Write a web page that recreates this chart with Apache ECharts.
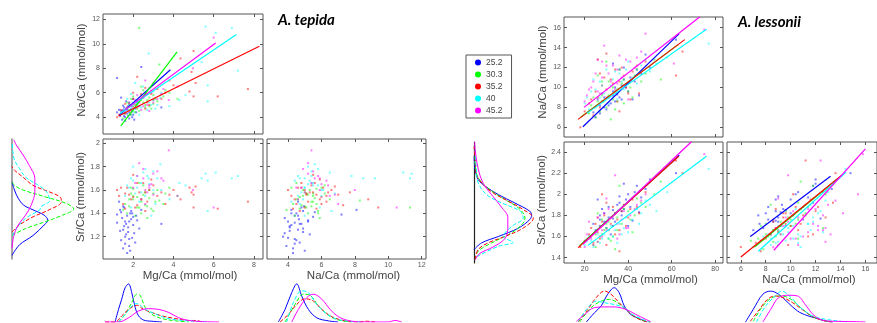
<!DOCTYPE html>
<html>
<head>
<meta charset="utf-8">
<script src="https://cdn.jsdelivr.net/npm/echarts@6/dist/echarts.min.js"></script>
<style>
  html, body { margin: 0; padding: 0; background: #fff; }
  #chart { width: 877px; height: 323px; }
</style>
</head>
<body>
<div id="chart"></div>
<script>
// temperature groups (legend) and their colours
const temps = ['25.2', '30.3', '35.2', '40', '45.2'];
const colors = ['#0000ff', '#00ff00', '#ff0000', '#00ffff', '#ff00ff'];
const dashed = [false, true, true, true, false];

// tick labels
const tepMgTicks = [2, 4, 6, 8];
const tepNaTicks = [4, 6, 8, 10, 12];
const tepSrTicks = [1.2, 1.4, 1.6, 1.8, 2];
const lesMgTicks = [20, 40, 60, 80];
const lesNaTicks = [6, 8, 10, 12, 14, 16];
const lesSrTicks = [1.4, 1.6, 1.8, 2, 2.2, 2.4];

// A. tepida specimens: [Mg/Ca, Na/Ca, Sr/Ca]
const tepPts252 = [[1.35,4.1,1.25],[1.5,4.3,1.10],[1.6,4.0,1.33],[1.7,4.6,1.38],[1.8,4.4,1.18],[1.9,4.9,1.42],[2.0,4.2,1.30],[2.1,4.7,1.15],[1.45,3.8,1.36],[1.55,4.8,1.45],[1.65,5.3,1.22],[1.75,4.1,1.28],[1.85,5.0,1.08],[1.95,4.5,1.40],[2.2,5.2,1.34],[1.3,4.6,1.50],[1.4,5.6,1.41],[1.6,3.7,1.20],[2.0,5.5,1.37],[1.8,3.9,1.12],[2.3,4.9,1.27],[1.2,4.4,1.32],[2.4,8.1,1.43],[1.2,7.2,1.39],[3.4,4.8,1.31],[1.7,4.3,1.06],[2.05,3.8,1.23],[1.5,4.95,1.46],[1.9,4.65,1.35],[1.35,4.2,1.43],[1.4,4.5,1.17],[1.55,4.1,1.29],[1.65,4.7,1.31],[1.75,4.9,1.24],[1.85,4.2,1.40],[1.95,4.0,1.19],[2.15,4.4,1.38],[1.5,4.6,1.26],[1.8,5.2,1.33],[1.6,4.4,1.14]];
const tepPts303 = [[1.6,4.3,1.48],[1.8,4.6,1.52],[2.0,4.9,1.55],[2.2,5.1,1.45],[2.4,5.4,1.50],[2.6,5.0,1.58],[2.8,5.6,1.53],[3.0,5.8,1.42],[3.2,5.3,1.60],[3.5,5.7,1.48],[3.8,6.0,1.62],[4.2,5.5,1.55],[1.7,5.2,1.40],[2.1,4.4,1.38],[2.5,6.2,1.64],[2.9,4.7,1.44],[1.9,5.5,1.57],[2.3,4.5,1.66],[2.7,5.9,1.36],[3.3,8.3,1.51],[2.3,11.3,1.45],[1.5,3.9,1.43],[2.0,5.7,1.61],[3.0,5.1,1.57],[2.6,4.8,1.47],[2.4,6.5,1.52],[1.8,5.0,1.46],[2.2,4.7,1.54],[2.5,5.2,1.56],[2.8,4.9,1.60],[3.1,5.5,1.50],[2.0,4.5,1.52],[2.4,5.8,1.40],[3.6,6.2,1.57],[1.9,4.2,1.62],[2.7,5.4,1.46]];
const tepPts352 = [[1.3,4.2,1.55],[1.5,4.5,1.48],[1.7,4.8,1.62],[1.9,4.4,1.52],[2.1,5.0,1.45],[2.3,5.3,1.58],[2.5,5.6,1.66],[2.7,5.2,1.50],[2.9,5.9,1.69],[3.2,6.3,1.55],[3.6,6.0,1.48],[4.0,6.6,1.60],[4.35,8.8,1.52],[4.9,7.7,1.58],[5.0,9.4,1.45],[4.8,6.1,1.62],[5.0,5.7,1.56],[6.2,5.7,1.44],[7.7,6.3,1.50],[2.2,7.3,1.47],[1.2,4.0,1.60],[2.0,5.5,1.73],[2.6,4.7,1.42],[3.0,5.4,1.64],[1.6,5.1,1.57],[5.1,6.8,1.63],[1.4,4.6,1.62],[1.8,5.1,1.56],[2.2,4.8,1.66],[2.4,5.9,1.52],[2.8,5.0,1.60],[3.4,5.5,1.58],[1.6,4.3,1.44],[2.0,6.0,1.54],[3.8,7.0,1.56],[2.6,6.4,1.58]];
const tepPts40 = [[1.6,4.6,1.55],[1.8,5.0,1.62],[2.0,4.4,1.68],[2.2,5.4,1.72],[2.4,4.8,1.58],[2.6,5.8,1.78],[2.8,5.2,1.65],[3.0,6.1,1.60],[3.35,5.6,1.82],[3.8,4.9,1.52],[4.3,5.4,1.66],[2.77,9.2,1.70],[5.6,11.4,1.74],[6.1,10.9,1.75],[5.7,6.6,1.42],[5.7,5.3,1.68],[7.2,7.8,1.72],[5.4,8.5,1.70],[1.9,5.9,1.45],[2.3,4.2,1.50],[2.5,6.5,1.75],[3.1,4.7,1.48],[1.7,5.5,1.64],[2.1,6.8,1.57],[2.9,5.0,1.38],[6.9,11.3,1.70],[1.9,4.7,1.70],[2.2,5.0,1.62],[2.4,5.5,1.66],[2.7,4.6,1.72],[3.0,5.4,1.76],[3.4,6.0,1.60],[2.0,5.2,1.80],[2.6,6.0,1.55],[3.2,5.0,1.70],[4.6,5.8,1.64]];
const tepPts452 = [[2.0,4.8,1.62],[2.3,5.2,1.83],[2.5,5.6,1.70],[2.7,5.0,1.58],[2.9,6.0,1.65],[3.2,5.5,1.76],[3.77,5.4,1.94],[4.2,6.5,1.55],[4.97,8.0,1.60],[6.0,10.5,1.45],[2.4,4.6,1.52],[3.5,6.3,1.68],[2.2,5.8,1.72],[2.8,4.5,1.62],[3.0,6.8,1.56],[2.6,7.0,1.48],[2.1,5.4,1.66],[2.6,5.9,1.60],[3.0,5.2,1.74],[3.4,5.9,1.70],[2.5,4.9,1.78],[2.8,6.4,1.64]];

// A. lessonii specimens: [Mg/Ca, Na/Ca, Sr/Ca]
const lesPts252 = [[24,7.5,1.72],[27,8.2,1.76],[29,8.0,1.82],[31,9.0,1.78],[33,9.6,1.85],[35,9.3,1.90],[37,10.2,1.80],[39,10.0,1.95],[41,11.0,1.88],[43,10.6,2.02],[46,11.4,1.97],[30,7.8,1.68],[34,8.6,1.74],[36,11.8,1.92],[28,9.4,1.86],[32,8.4,1.62],[40,9.6,1.70],[38,12.0,2.10],[45,9.2,1.83],[26,8.8,1.95],[48,13.3,2.05],[62,14.8,2.20],[33,12.4,1.77],[42,8.8,1.75],[25,7.0,1.66],[29,9.0,1.74],[31,8.2,1.88],[34,10.0,1.82],[36,9.0,1.98],[38,10.8,1.86],[40,10.4,2.0],[44,11.8,2.08],[27,7.4,1.80],[33,9.2,1.70],[37,8.8,1.84],[50,12.0,2.14]];
const lesPts303 = [[22,7.4,1.58],[25,8.0,1.62],[27,7.6,1.70],[29,8.6,1.66],[31,9.2,1.74],[33,8.8,1.60],[35,9.8,1.78],[37,10.4,1.72],[40,9.6,1.84],[43,11.2,1.80],[46,10.6,1.92],[24,9.0,1.52],[30,12.6,1.68],[34,7.8,1.48],[38,8.4,1.90],[28,10.6,1.76],[55,10.8,2.12],[52,12.8,2.0],[36,11.8,2.08],[42,9.0,1.64],[26,11.2,1.82],[32,6.8,1.56],[23,8.2,1.60],[26,8.6,1.55],[28,9.2,1.62],[30,8.0,1.72],[33,10.0,1.70],[35,8.6,1.66],[38,10.8,1.86],[41,10.0,1.76],[44,11.8,1.96],[31,10.6,1.58],[25,7.0,1.50],[48,11.4,1.88]];
const lesPts352 = [[18,6.0,1.50],[22,8.4,1.62],[25,9.6,1.72],[27,8.0,1.58],[29,11.0,1.80],[31,9.0,1.66],[33,10.4,1.88],[35,8.6,1.76],[37,12.0,1.84],[39,10.0,1.70],[42,11.6,1.95],[45,9.4,1.82],[48,12.6,2.02],[24,7.2,1.54],[30,13.4,1.92],[34,11.8,1.62],[28,10.2,2.0],[62,11.2,2.32],[65,13.6,2.2],[36,7.6,1.46],[41,8.8,1.86],[26,12.8,1.78],[20,7.6,1.56],[23,8.8,1.68],[26,9.0,1.64],[28,8.6,1.74],[32,10.8,1.72],[34,9.6,1.82],[36,10.6,1.66],[38,11.2,1.90],[40,9.4,1.78],[44,12.2,1.88],[30,9.8,1.52],[27,11.4,1.60]];
const lesPts40 = [[20,8.4,1.52],[23,9.6,1.56],[26,8.2,1.62],[28,10.2,1.58],[31,9.0,1.66],[33,10.8,1.60],[36,11.4,1.72],[38,9.8,1.68],[42,11.0,1.76],[46,12.2,1.82],[50,11.6,1.90],[24,10.8,1.50],[30,11.8,1.74],[35,8.8,1.54],[40,12.6,1.64],[27,9.0,1.70],[77,14.4,2.24],[58,13.0,2.02],[44,10.4,1.86],[22,7.8,1.60],[21,9.0,1.55],[25,9.8,1.64],[27,10.6,1.54],[29,9.4,1.62],[32,10.2,1.70],[34,11.6,1.66],[37,10.6,1.62],[39,11.8,1.78],[45,11.4,1.72],[48,12.8,1.94],[31,8.4,1.58],[53,12.4,1.84]];
const lesPts452 = [[20,8.6,1.50],[23,10.0,1.58],[25,11.4,1.64],[27,9.4,1.70],[30,12.2,1.66],[32,10.6,1.78],[35,11.8,1.72],[38,10.2,1.84],[41,12.6,1.80],[44,13.0,1.90],[30,9.0,1.96],[26,12.8,1.55],[36,13.2,1.62],[48,15.4,2.0],[61,12.4,2.32],[75,15.8,2.38],[22,9.8,1.74],[29,14.2,1.82],[40,8.8,1.68],[34,9.8,2.18],[21,9.2,1.62],[24,10.6,1.52],[26,9.6,1.78],[28,11.0,1.60],[31,11.4,1.86],[33,12.2,1.70],[37,11.0,1.76],[39,12.8,1.68],[43,12.0,1.86],[46,13.6,1.94],[28,12.6,1.66],[35,10.4,1.58]];

// regression line end points, one per temperature
const tepFitNaMg = [[[1.32,4.19],[3.85,7.88]],[[1.385,3.29],[4.18,9.33]],[[1.27,4.1],[8.27,9.79]],[[1.35,4.33],[7.13,10.75]],[[1.6,4.6],[6.1,10.07]]];
const lesFitNaMg = [[[19.2,6.06],[63.5,15.4]],[[18,7.0],[63,14.3]],[[17,6.8],[66,14.8]],[[21,7.4],[76,15.85]],[[19.7,8.0],[73,17.1]]];
const lesFitSrMg = [[[19.2,1.538],[63.5,2.37]],[[17.6,1.51],[62,2.34]],[[17,1.495],[63.2,2.36]],[[21.5,1.516],[76,2.36]],[[19.2,1.526],[69.2,2.5]]];
const lesFitSrNa = [[[6.76,1.6],[13.2,2.17]],[[7.1,1.5],[13.8,2.15]],[[6.0,1.405],[14.1,2.18]],[[7.4,1.46],[14.45,2.21]],[[8.65,1.47],[16,2.43]]];

// kernel density curves: [value, density]
const tepDensSr = [
  [[1.04,0],[1.13,0.12],[1.21,0.34],[1.30,0.52],[1.34,0.58],[1.385,0.52],[1.43,0.34],[1.47,0.19],[1.53,0.1],[1.6,0.04],[1.67,0]],
  [[1.21,0],[1.27,0.22],[1.33,0.55],[1.385,0.82],[1.437,1.0],[1.485,0.88],[1.54,0.55],[1.6,0.18],[1.64,0.04],[1.67,0]],
  [[1.24,0],[1.3,0.12],[1.37,0.34],[1.43,0.6],[1.5,0.8],[1.54,0.78],[1.585,0.6],[1.64,0.34],[1.71,0.18],[1.77,0.04],[1.8,0]],
  [[1.21,0.01],[1.27,0.07],[1.357,0.22],[1.43,0.45],[1.457,0.47],[1.51,0.61],[1.585,0.56],[1.64,0.43],[1.71,0.22],[1.785,0.12],[1.857,0.04],[1.93,0.015],[2.01,0]],
  [[1.1,0],[1.21,0.03],[1.3,0.1],[1.385,0.22],[1.47,0.31],[1.585,0.37],[1.7,0.37],[1.81,0.28],[1.9,0.18],[1.985,0.07],[2.03,0.03]]
];
const tepDensMg = [
  [[1.1,0],[1.27,0.33],[1.43,0.6],[1.6,0.9],[1.77,1.0],[1.93,0.77],[2.1,0.38],[2.27,0.16],[2.52,0.05],[2.93,0.02],[3.43,0]],
  [[1.27,0],[1.6,0.2],[1.93,0.51],[2.18,0.73],[2.35,0.7],[2.6,0.38],[2.93,0.2],[3.43,0.09],[4.1,0.03],[4.77,0]],
  [[0.6,0],[1.1,0],[1.43,0.16],[1.77,0.33],[2.18,0.44],[2.52,0.33],[2.93,0.25],[3.43,0.16],[4.1,0.09],[4.77,0.04],[5.1,0.04],[5.43,0]],
  [[1.27,0],[1.68,0.25],[2.02,0.46],[2.2,0.48],[2.6,0.33],[3.02,0.23],[3.6,0.11],[4.27,0.05],[5.1,0.02],[5.77,0]],
  [[0.6,0],[1.27,0],[1.77,0.11],[2.27,0.29],[2.77,0.35],[3.27,0.33],[3.77,0.25],[4.27,0.11],[4.77,0.04],[5.43,0.01],[6.27,0]]
];
const tepDensNa = [
  [[3.42,0],[3.82,0.33],[4.22,0.77],[4.52,1.0],[4.82,0.68],[5.22,0.33],[5.72,0.11],[6.41,0.03],[7.0,0]],
  [[3.82,0],[4.42,0.46],[4.92,0.73],[5.32,0.7],[5.82,0.42],[6.41,0.18],[7.01,0.05],[7.8,0]],
  [[3.52,0],[4.02,0.2],[4.52,0.46],[5.02,0.61],[5.52,0.55],[6.02,0.33],[6.62,0.14],[7.41,0.03],[8.2,0],[8.7,0.02],[9.2,0]],
  [[3.92,0],[4.32,0.51],[4.82,0.82],[5.22,0.77],[5.72,0.46],[6.22,0.25],[6.81,0.09],[7.61,0.02],[8.4,0]],
  [[4.22,0],[4.62,0.33],[5.12,0.64],[5.52,0.73],[6.02,0.6],[6.52,0.33],[7.01,0.14],[7.61,0.04],[8.41,0],[10.0,0],[10.4,0.04],[10.8,0]]
];
const lesDensSr = [
  [[1.476,0],[1.54,0.13],[1.6,0.41],[1.68,0.75],[1.76,0.94],[1.8,0.97],[1.84,0.94],[1.917,0.69],[1.997,0.41],[2.076,0.19],[2.14,0.07],[2.234,0.02],[2.36,0]],
  [[1.38,0.02],[1.46,0.07],[1.54,0.3],[1.618,0.58],[1.697,0.78],[1.775,0.86],[1.87,0.75],[1.95,0.52],[2.03,0.3],[2.11,0.13],[2.2,0.04],[2.36,0.01]],
  [[1.38,0.02],[1.476,0.07],[1.54,0.24],[1.6,0.52],[1.68,0.83],[1.775,1.0],[1.855,0.83],[1.934,0.58],[2.01,0.33],[2.09,0.16],[2.19,0.04],[2.33,0.02],[2.45,0]],
  [[1.41,0.05],[1.507,0.41],[1.545,0.66],[1.6,0.49],[1.697,0.64],[1.775,0.83],[1.84,0.78],[1.917,0.47],[1.997,0.21],[2.11,0.07],[2.234,0.04],[2.42,0.02]],
  [[1.38,0.02],[1.44,0.1],[1.5,0.32],[1.58,0.52],[1.68,0.57],[1.78,0.57],[1.88,0.46],[1.98,0.32],[2.08,0.18],[2.18,0.1],[2.3,0.05],[2.42,0.02],[2.5,0.01]]
];
const lesDensMg = [
  [[20.8,0],[24.5,0.27],[27.6,0.47],[30.6,0.81],[33.6,1.0],[35.9,0.85],[38.2,0.47],[41.2,0.22],[45,0.1],[48.8,0]],
  [[17.7,0],[23,0.42],[27.6,0.61],[31.4,0.66],[35.2,0.56],[39,0.37],[42.7,0.17],[47.3,0.03],[50,0]],
  [[17,0],[21.5,0.37],[25.3,0.71],[29.1,0.9],[32.1,0.81],[35.9,0.56],[39.7,0.32],[43.5,0.13],[47.3,0.03],[50,0]],
  [[17,0.02],[21.5,0.42],[25.3,0.61],[29.1,0.56],[33.6,0.51],[38.2,0.42],[42,0.22],[46.5,0.08],[50.3,0]],
  [[16.2,0.02],[20,0.22],[24.5,0.42],[29.1,0.44],[33.6,0.44],[38.9,0.37],[43.5,0.22],[48,0.08],[50.3,0.01]]
];
const lesDensNa = [
  [[6.38,0],[7.0,0.37],[7.77,0.81],[8.4,0.9],[9.03,0.81],[9.8,0.56],[10.55,0.32],[11.3,0.19],[12.06,0.11],[12.8,0.03],[13.4,0]],
  [[7.0,0.02],[7.77,0.47],[8.52,0.71],[9.28,0.76],[10.04,0.66],[10.8,0.42],[11.7,0.17],[12.56,0.05],[13.3,0]],
  [[6.76,0.02],[7.5,0.37],[8.14,0.66],[8.77,0.76],[9.4,0.71],[10.17,0.56],[10.9,0.37],[11.7,0.17],[12.56,0.05],[13.3,0]],
  [[7.26,0],[8.0,0.47],[8.77,0.76],[9.28,0.9],[10.04,0.71],[10.8,0.42],[11.8,0.17],[12.8,0.08],[13.8,0.03],[14.5,0]],
  [[7.77,0],[8.4,0.37],[9.03,0.71],[9.8,0.78],[10.55,0.76],[11.17,0.51],[11.8,0.22],[12.56,0.05],[13.6,0.02],[15.3,0.01],[16,0]]
];

const tepPts = [tepPts252, tepPts303, tepPts352, tepPts40, tepPts452];
const lesPts = [lesPts252, lesPts303, lesPts352, lesPts40, lesPts452];

const grids = [
  { left: 103, top: 14, width: 160, height: 120 },   // 0 tepida Na vs Mg
  { left: 103, top: 139, width: 160, height: 120 },  // 1 tepida Sr vs Mg
  { left: 267, top: 139, width: 159, height: 120 },  // 2 tepida Sr vs Na
  { left: 12, top: 139, width: 70, height: 120 },    // 3 tepida Sr density
  { left: 103, top: 282, width: 160, height: 40 },   // 4 tepida Mg density
  { left: 267, top: 282, width: 159, height: 40 },   // 5 tepida Na density
  { left: 564, top: 17, width: 159, height: 120 },   // 6 lessonii Na vs Mg
  { left: 564, top: 142, width: 159, height: 121 },  // 7 lessonii Sr vs Mg
  { left: 727, top: 142, width: 159, height: 121 },  // 8 lessonii Sr vs Na
  { left: 474, top: 142, width: 70, height: 121 },   // 9 lessonii Sr density
  { left: 564, top: 282, width: 159, height: 40 },   // 10 lessonii Mg density
  { left: 727, top: 282, width: 159, height: 40 }    // 11 lessonii Na density
].map((g, i) => Object.assign({
  show: [0, 1, 2, 6, 7, 8].includes(i),
  borderColor: '#555', borderWidth: 1, backgroundColor: '#fff'
}, g));

const xAxes = [];
const yAxes = [];
const titleFont = { fontSize: 11.5, color: '#444', fontFamily: 'Liberation Sans' };

function addAxis(list, gi, pos, range, ticks, labels, name, gap, pad) {
  const ax = {
    type: 'value', gridIndex: gi, position: pos,
    min: range[0], max: range[1],
    axisLine: { show: false, onZero: false },
    splitLine: { show: false },
    axisTick: { show: !!ticks, inside: true, length: 3, lineStyle: { color: '#555' } },
    axisLabel: { show: labels, fontSize: 7, color: '#555', margin: 3, fontFamily: 'Liberation Sans' }
  };
  if (ticks) {
    ax.axisTick.customValues = ticks;
    ax.axisLabel.customValues = ticks;
  }
  if (name) {
    ax.name = name;
    ax.nameLocation = 'middle';
    ax.nameGap = gap;
    ax.nameTextStyle = Object.assign({ padding: pad || 0 }, titleFont);
  }
  list.push(ax);
  return list.length - 1;
}

function panel(gi, xr, yr, xt, yt, xLab, yLab, xName, yName, yGap, yPad) {
  const xi = addAxis(xAxes, gi, 'bottom', xr, xt, xLab, xName, 10, [0, 0, 0, 14]);
  addAxis(xAxes, gi, 'top', xr, xt, false);
  const yi = addAxis(yAxes, gi, 'left', yr, yt, yLab, yName, yGap, yPad);
  addAxis(yAxes, gi, 'right', yr, yt, false);
  return [xi, yi];
}

function hidden(list, gi, range) {
  list.push({ type: 'value', gridIndex: gi, show: false, min: range[0], max: range[1],
    axisLine: { onZero: false }, splitLine: { show: false } });
  return list.length - 1;
}

// A. tepida axes
const tMgR = [0.5, 8.45], tNaR = [2.63, 12.43], tNaXR = [2.74, 12.26], tSrR = [1.009, 2.037];
const tA = panel(0, tMgR, tNaR, tepMgTicks, tepNaTicks, false, true, null, 'Na/Ca (mmol/mol)', 10, [0, 0, 0, 8]);
const tB = panel(1, tMgR, tSrR, tepMgTicks, tepSrTicks, true, true, 'Mg/Ca (mmol/mol)', 'Sr/Ca (mmol/mol)', 12, [0, 0, 0, 4]);
const tC = panel(2, tNaXR, tSrR, tepNaTicks, tepSrTicks, true, false, 'Na/Ca (mmol/mol)', null);
const tD = [hidden(xAxes, 3, [0, 1.134]), yAxes.push({ type: 'value', gridIndex: 3, min: tSrR[0], max: tSrR[1],
  axisLine: { show: true, onZero: false, lineStyle: { color: '#888', width: 1.5 } },
  axisTick: { show: false }, axisLabel: { show: false }, splitLine: { show: false } }) - 1];
const tE = [hidden(xAxes, 4, tMgR), hidden(yAxes, 4, [0, 1.05])];
const tF = [hidden(xAxes, 5, tNaXR), hidden(yAxes, 5, [0, 1.05])];

// A. lessonii axes
const lMgR = [10.5, 83.6], lNaR = [5.03, 17.07], lNaXR = [4.89, 16.93], lSrR = [1.349, 2.495];
const lA = panel(6, lMgR, lNaR, lesMgTicks, lesNaTicks, false, true, null, 'Na/Ca (mmol/mol)', 13, [0, 0, 0, 10]);
const lB = panel(7, lMgR, lSrR, lesMgTicks, lesSrTicks, true, true, 'Mg/Ca (mmol/mol)', 'Sr/Ca (mmol/mol)', 13, [0, 0, 0, 5]);
const lC = panel(8, lNaXR, lSrR, lesNaTicks, lesSrTicks, true, false, 'Na/Ca (mmol/mol)', null);
const lD = [hidden(xAxes, 9, [0, 1.18]), yAxes.push({ type: 'value', gridIndex: 9, min: lSrR[0], max: lSrR[1],
  axisLine: { show: true, onZero: false, lineStyle: { color: '#222', width: 1.2 } },
  axisTick: { show: false }, axisLabel: { show: false }, splitLine: { show: false } }) - 1];
const lE = [hidden(xAxes, 10, lMgR), hidden(yAxes, 10, [0, 1.166])];
const lF = [hidden(xAxes, 11, lNaXR), hidden(yAxes, 11, [0, 1.166])];

const series = [];

function dots(ax, data, i) {
  series.push({
    type: 'scatter', name: temps[i], xAxisIndex: ax[0], yAxisIndex: ax[1], data: data,
    symbol: 'rect', symbolSize: 2, silent: true, z: 2,
    itemStyle: { color: colors[i], opacity: 0.5 }
  });
}
function fit(ax, data, i) {
  series.push({
    type: 'line', name: temps[i], xAxisIndex: ax[0], yAxisIndex: ax[1], data: data,
    symbol: 'none', silent: true, z: 3, lineStyle: { color: colors[i], width: 1.2 }
  });
}
function dens(ax, data, i) {
  series.push({
    type: 'line', name: temps[i], xAxisIndex: ax[0], yAxisIndex: ax[1], data: data,
    symbol: 'none', smooth: 0.35, silent: true, z: 3,
    lineStyle: { color: colors[i], width: 1, type: dashed[i] ? [4, 2] : 'solid' }
  });
}

temps.forEach((t, i) => {
  const tp = tepPts[i];
  dots(tA, tp.map(p => [p[0], p[1]]), i);
  dots(tB, tp.map(p => [p[0], p[2]]), i);
  dots(tC, tp.map(p => [p[1], p[2]]), i);
  const lp = lesPts[i];
  dots(lA, lp.map(p => [p[0], p[1]]), i);
  dots(lB, lp.map(p => [p[0], p[2]]), i);
  dots(lC, lp.map(p => [p[1], p[2]]), i);
});
temps.forEach((t, i) => {
  fit(tA, tepFitNaMg[i], i);
  fit(lA, lesFitNaMg[i], i);
  fit(lB, lesFitSrMg[i], i);
  fit(lC, lesFitSrNa[i], i);
  dens(tD, tepDensSr[i].map(p => [p[1], p[0]]), i);
  dens(tE, tepDensMg[i], i);
  dens(tF, tepDensNa[i], i);
  dens(lD, lesDensSr[i].map(p => [p[1], p[0]]), i);
  dens(lE, lesDensMg[i], i);
  dens(lF, lesDensNa[i], i);
});

const chart = echarts.init(document.getElementById('chart'));
chart.setOption({
  animation: false,
  backgroundColor: '#fff',
  grid: grids,
  xAxis: xAxes,
  yAxis: yAxes,
  series: series,
  legend: {
    left: 466, top: 55, orient: 'vertical',
    padding: [3, 9, 3, 9], itemGap: 3,
    itemWidth: 6, itemHeight: 6,
    borderColor: '#555', borderWidth: 1, backgroundColor: '#fff',
    selectedMode: false,
    textStyle: { fontSize: 8.5, lineHeight: 9, color: '#444', fontFamily: 'Liberation Sans' },
    data: temps.map((t, i) => ({ name: t, icon: 'circle', itemStyle: { color: colors[i], opacity: 1 } }))
  },
  graphic: [
    { type: 'text', left: 278, top: 13, style: { text: 'A. tepida', fontSize: 15, fontWeight: 'bold', fontStyle: 'italic', fontFamily: 'Lato', fill: '#000' } },
    { type: 'text', left: 738, top: 15, style: { text: 'A. lessonii', fontSize: 15, fontWeight: 'bold', fontStyle: 'italic', fontFamily: 'Lato', fill: '#000' } }
  ]
});
</script>
</body>
</html>
